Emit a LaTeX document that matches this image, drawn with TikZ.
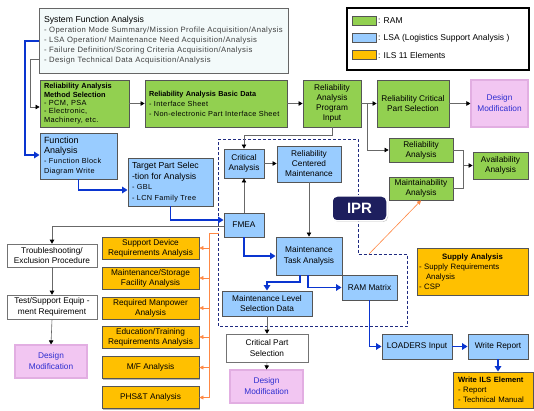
\documentclass[tikz,border=0pt]{standalone}
\usepackage{fontspec}
\setmainfont{Liberation Sans}
\newfontfamily\widefont[LetterSpace=5]{Liberation Sans}
\newcommand{\wtxt}{\widefont\spaceskip=0.45em\relax}
\usetikzlibrary{arrows.meta,shadows}
\definecolor{ramgreen}{HTML}{92D050}
\definecolor{lsablue}{HTML}{99CCFF}
\definecolor{ilsorange}{HTML}{FFC000}
\definecolor{boxgray}{HTML}{555555}
\definecolor{dmpink}{HTML}{F2C6F2}
\definecolor{dmborder}{HTML}{E2AEE2}
\definecolor{dmtext}{HTML}{2E2ED0}
\definecolor{sfafill}{HTML}{F3FAFA}
\definecolor{sfatext}{HTML}{404040}
\definecolor{lngray}{HTML}{686868}
\definecolor{lnblue}{HTML}{0A35D0}
\definecolor{lnorange}{HTML}{FF8844}
\definecolor{iprdash}{HTML}{1F2A80}
\definecolor{iprnavy}{HTML}{1E1F5E}
\begin{document}
\begin{tikzpicture}[x=1pt,y=-1pt,
  shd/.style={drop shadow={shadow xshift=1.3pt,shadow yshift=-1.3pt,opacity=0.5,fill=black!55}},
  bx/.style={draw=boxgray,line width=0.9pt,shd,inner sep=2pt,font=\fontsize{8.3}{10}\selectfont,align=center},
  ram/.style={bx,fill=ramgreen},
  lsa/.style={bx,fill=lsablue},
  ils/.style={bx,fill=ilsorange,minimum width=97pt,minimum height=22pt,inner sep=1pt},
  wbx/.style={draw=gray!90!black,line width=0.6pt,fill=white,inner sep=1.5pt,font=\fontsize{8.3}{10.5}\selectfont,align=center},
  dmod/.style={fill=dmpink,draw=dmborder,line width=1.2pt,text=dmtext,font=\fontsize{8.3}{11}\selectfont,align=center,drop shadow={shadow xshift=0.9pt,shadow yshift=-0.9pt,opacity=0.3,fill=black!50}},
  gl/.style={draw=lngray,line width=0.6pt},
  ga/.style={gl,-{Triangle[length=4pt,width=4.5pt,color=black]}},
  bl/.style={draw=lnblue,line width=1.6pt,-{Triangle[length=5.5pt,width=6.5pt]}},
  ol/.style={draw=lnorange,line width=0.6pt},
  oa/.style={ol,-{Triangle[length=4pt,width=4pt]}},
  swatch/.style={draw=boxgray,line width=0.6pt,minimum width=24pt,minimum height=9pt,inner sep=0pt},
  legtext/.style={anchor=west,inner sep=0pt,font=\fontsize{8.5}{10}\selectfont}
]
\useasboundingbox[fill=white] (0,0) rectangle (534,411);

% IPR dashed region
\draw[iprdash,line width=1pt,dash pattern=on 3pt off 2pt] (218,139.5) -- (358,139.5) -- (358,254) -- (407,254) -- (407,326) -- (218,326) -- cycle;

% top row
\node[bx,fill=sfafill,draw=gray!80!black,text width=239pt,minimum height=65pt,inner xsep=5pt,align=left,font=\wtxt\fontsize{7.7}{10}\selectfont] (sfa) at (163.5,40.5)
 {{\rmfamily\fontsize{8.7}{10}\selectfont System Function Analysis}\\
  \textcolor{sfatext}{\mbox{- Operation Mode Summary/Mission Profile Acquisition/Analysis}}\\
  \textcolor{sfatext}{\mbox{- LSA Operation/ Maintenance Need Acquisition/Analysis}}\\
  \textcolor{sfatext}{\mbox{- Failure Definition/Scoring Criteria Acquisition/Analysis}}\\
  \textcolor{sfatext}{\mbox{- Design Technical Data Acquisition/Analysis}}\\[-4pt]};

\node[draw=black,line width=1.2pt,fill=white,minimum width=182pt,minimum height=62pt] (leg) at (438,39) {};
\node[swatch,fill=ramgreen] (lg1) at (364,21) {};
\node[swatch,fill=lsablue] (lg2) at (364,38) {};
\node[swatch,fill=ilsorange] (lg3) at (364,55) {};
\node[legtext] (lt1) at (378,21) {: RAM};
\node[legtext] (lt2) at (378,38) {: LSA (Logistics Support Analysis )};
\node[legtext] (lt3) at (378,55) {: ILS 11 Elements};

\node[ram,text width=81pt,inner xsep=4pt,minimum height=47pt,align=left,font=\wtxt\fontsize{7.4}{8.3}\selectfont] (meth) at (84.5,103.5)
 {{\rmfamily\bfseries Reliability Analysis}\\{\rmfamily\bfseries Method Selection}\\- PCM, PSA\\- Electronic,\\Machinery, etc.};
\node[ram,text width=134pt,inner xsep=4pt,minimum height=47pt,align=left,font=\wtxt\fontsize{7.3}{10}\selectfont] (basic) at (216,103.5)
 {{\rmfamily\bfseries Reliability Analysis Basic Data}\\- Interface Sheet\\\mbox{- Non-electronic Part Interface Sheet}};
\node[ram,minimum width=58pt,minimum height=47pt] (prog) at (332,103.5) {Reliability\\Analysis\\Program\\Input};
\node[ram,minimum width=72pt,minimum height=47pt] (rcps) at (413,103.5) {Reliability Critical\\Part Selection};
\node[dmod,minimum width=57pt,minimum height=47pt] (dm1) at (499.5,103.5) {Design\\Modification};

% RAM analyses
\node[ram,minimum width=64pt,minimum height=24pt,inner sep=1pt] (ra) at (421,150) {Reliability\\Analysis};
\node[ram,minimum width=64pt,minimum height=23pt,inner sep=1pt] (ma) at (421,188.5) {Maintainability\\Analysis};
\node[ram,minimum width=55pt,minimum height=27pt,inner sep=1pt] (aa) at (500.5,165.5) {Availability\\Analysis};

% LSA left
\node[lsa,text width=69pt,inner xsep=4pt,minimum height=46pt,align=left,font=\wtxt\fontsize{7.3}{10}\selectfont] (fa) at (78.5,156)
 {{\rmfamily\fontsize{9}{11}\selectfont Function}\\{\rmfamily\fontsize{9}{11}\selectfont Analysis}\\- Function Block\\Diagram Write};
\node[lsa,text width=77pt,inner xsep=4pt,minimum height=48pt,align=left,font=\wtxt\fontsize{7.3}{10.5}\selectfont] (tps) at (170.5,182)
 {{\rmfamily\fontsize{8.7}{11}\selectfont Target Part Selec}\\{\rmfamily\fontsize{8.7}{11}\selectfont -tion for Analysis}\\- GBL\\- LCN Family Tree};

% IPR block
\node[lsa,minimum width=40pt,minimum height=29pt,inner sep=0.5pt] (ca) at (244,163.5) {Critical\\Analysis};
\node[lsa,minimum width=64pt,minimum height=36pt] (rcm) at (309,164) {Reliability\\Centered\\Maintenance};
\node[lsa,minimum width=40pt,minimum height=24pt] (fmea) at (244,225) {FMEA};
\node[lsa,minimum width=66pt,minimum height=38pt,font=\fontsize{8.3}{11}\selectfont] (mta) at (309,256) {Maintenance\\Task Analysis};
\node[lsa,minimum width=90pt,minimum height=25pt,inner sep=1pt] (mlsd) at (267,303.5) {Maintenance Level\\Selection Data};
\node[lsa,minimum width=55pt,minimum height=25pt] (ram) at (369.5,287.5) {RAM Matrix};
\node[lsa,minimum width=70pt,minimum height=25pt] (loaders) at (417,346.5) {LOADERS Input};
\node[lsa,minimum width=60pt,minimum height=25pt] (wr) at (498,346.5) {Write Report};

\node[fill=iprnavy,draw=white,line width=1.5pt,rounded corners=5pt,minimum width=55pt,minimum height=25pt,text=white,font=\bfseries\fontsize{15}{15}\selectfont,drop shadow={shadow xshift=1pt,shadow yshift=-1pt,opacity=0.4,fill=black!60}] (ipr) at (359.5,208.5) {IPR};

% ILS
\node[ils,text width=107pt,minimum width=111pt,minimum height=47pt,inner xsep=2pt,align=left,font=\fontsize{7.8}{10}\selectfont] (supply) at (472.5,271.5)
 {\makebox[\linewidth][c]{\bfseries Supply Analysis}\\- Supply Requirements\\\hspace*{7pt}Analysis\\- CSP};
\node[ils,text width=70pt,minimum width=80pt,minimum height=36pt,inner xsep=5pt,align=left,font=\fontsize{7.8}{10}\selectfont] (wils) at (493,390)
 {{\bfseries\fontsize{7.6}{10}\selectfont Write ILS Element}\\- Report\\- Technical Manual};
\node[ils] (o1) at (150.5,248) {Support Device\\Requirements Analysis};
\node[ils] (o2) at (150.5,278) {Maintenance/Storage\\Facility Analysis};
\node[ils] (o3) at (150.5,308) {Required Manpower\\Analysis};
\node[ils] (o4) at (150.5,337) {Education/Training\\Requirements Analysis};
\node[ils] (o5) at (150.5,367.5) {M/F Analysis};
\node[ils] (o6) at (150.5,397.5) {PHS\&T Analysis};

% white boxes and design modifications
\node[wbx,minimum width=90pt,minimum height=23pt] (ts) at (52,255.5) {Troubleshooting/\\Exclusion Procedure};
\node[wbx,minimum width=90pt,minimum height=24pt] (tse) at (52,307) {Test/Support Equip -\\ment Requirement};
\node[dmod,minimum width=72pt,minimum height=33pt] (dm2) at (51,361.5) {Design\\Modification};
\node[wbx,minimum width=82pt,minimum height=28pt] (cps) at (267,348) {Critical Part\\Selection};
\node[dmod,minimum width=73pt,minimum height=33pt] (dm3) at (266.5,386.5) {Design\\Modification};

% gray connectors
\draw[ga] (sfa.west |- 0,59) -- (30,59) -- (30,107) -- (meth.west |- 0,107);
\draw[ga] (meth.east) -- (basic.west);
\draw[ga] (basic.east) -- (prog.west);
\draw[ga] (prog.east) -- (rcps.west);
\draw[ga] (rcps.east) -- (dm1.west);
\coordinate (j1) at (367,103.5);
\draw[ga] (j1) |- (ra.west);
\draw[ga] (prog.south) -- (prog.south |- 0,135) -| (ca.north);
\draw[gl] (ra.east) -- (463,150) -- (463,188.5) -- (ma.east);
\draw[ga] (463,165.5) -- (aa.west);
\draw[ga] (ca.east) -- (rcm.west |- ca.east);
\draw[ga] (fmea.north) -- (ca.south);
\draw[ga] (rcm.south) -- (mta.north);
\draw[ga] (fmea.west |- 0,226) -- (52,226) -- (ts.north);
\draw[ga] (ts.south) -- (tse.north);
\draw[ga] (tse.south) -- (dm2.north);
\draw[ga] (mlsd.south) -- (cps.north);
\draw[ga] (cps.south) -- (dm3.north);

% blue connectors
\draw[bl] (sfa.west |- 0,41) -- (25,41) -- (25,155) -- (fa.west |- 0,155);
\draw[bl] (fa.south) |- (tps.west |- 0,190);
\draw[bl] (tps.south) |- (fmea.west |- 0,220);
\draw[bl] (fmea.south) |- (mta.west);
\draw[bl] ([xshift=-9pt]mta.south) |- (267,282) -- (mlsd.north);
\draw[bl] ([xshift=-1pt]mta.south) |- (ram.west);
\draw[bl] (ram.south) |- (loaders.west);
\draw[bl] (loaders.east) -- (wr.west);
\draw[bl] (wr.south) -- (wr.south |- wils.north);

% orange connectors
\coordinate (ostart) at (219,233);
\draw[ol] (ostart) -- (209,233) -- (209,397.5);
\foreach \o in {o1,o2,o3,o4,o5,o6}{\draw[oa] (\o.east -| 209,0) -- (\o.east);}
\coordinate (ipr0) at (369,254);
\draw[oa] (ipr0) -- (ma.south);
\end{tikzpicture}
\end{document}
